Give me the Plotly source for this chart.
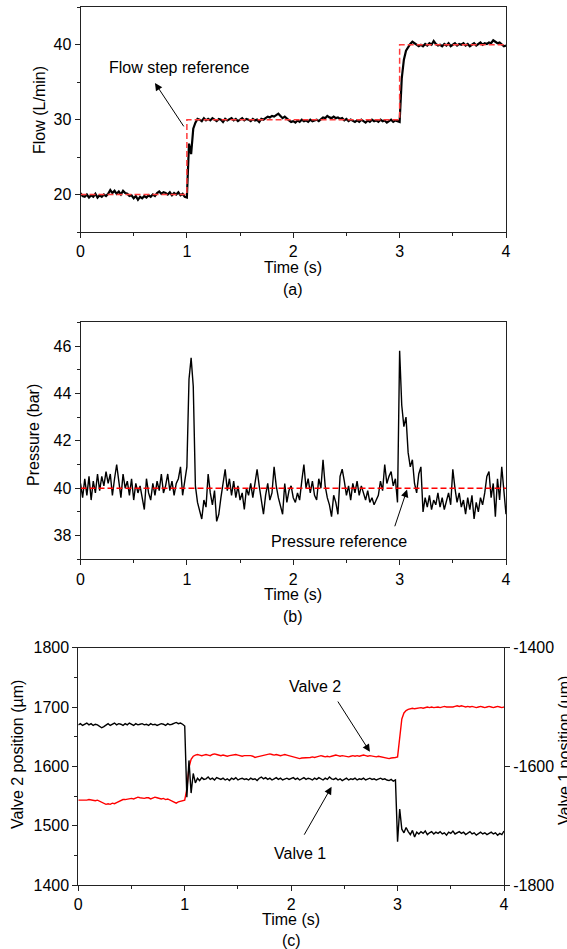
import plotly.graph_objects as go

FONT = "Liberation Sans, Arial, sans-serif"
W, H = 567, 949

# sampling grid (s)
t = [round(0.02 * i, 2) for i in range(201)]

# (a) measured flow (L/min)
flow = [
    20.2, 19.8, 19.7, 20.0, 19.6, 19.9, 19.7, 20.1, 19.6, 19.9,
    19.7, 20.0, 19.8, 20.1, 20.6, 20.2, 20.5, 20.1, 20.4, 20.0,
    20.5, 20.2, 20.1, 19.8, 19.9, 19.5, 19.8, 19.3, 19.7, 19.5,
    19.8, 19.6, 19.9, 19.7, 20.0, 19.8, 20.2, 20.4, 20.1, 20.3,
    20.2, 20.0, 20.3, 19.9, 20.2, 20.0, 20.3, 19.9, 20.1, 19.7,
    19.6, 26.8, 25.4, 28.8, 29.6, 30.1, 30.0, 29.8, 30.2, 29.9,
    30.1, 29.9, 30.2, 30.0, 29.8, 30.1, 30.0, 29.7, 30.1, 29.9,
    30.0, 30.2, 29.9, 30.1, 29.8, 30.0, 30.2, 29.9, 30.1, 30.0,
    29.8, 30.1, 29.9, 30.0, 29.7, 30.1, 30.0, 30.2, 30.4, 30.3,
    30.5, 30.4, 30.6, 30.8, 30.5, 30.2, 30.4, 30.1, 29.9, 29.7,
    29.8, 29.6, 29.9, 29.7, 30.0, 29.8, 29.9, 29.7, 30.0, 29.8,
    29.9, 30.0, 29.8, 30.1, 30.3, 30.2, 30.5, 30.3, 30.2, 30.4,
    30.2, 30.3, 30.1, 30.2, 29.9, 30.1, 29.8, 30.0, 29.9, 29.7,
    29.9, 29.7, 30.0, 29.8, 29.6, 29.9, 29.7, 30.0, 29.8, 29.9,
    29.7, 30.0, 29.8, 29.9, 29.6, 29.8, 30.0, 29.7, 29.9, 29.8,
    29.7, 35.5, 38.0, 39.2, 39.7, 40.1, 40.4, 40.2, 40.0, 39.8,
    40.0, 39.8, 40.1, 39.9, 40.2, 40.0, 40.5, 40.1, 39.9, 40.0,
    39.8, 40.1, 39.9, 40.2, 39.8, 40.0, 40.2, 39.9, 40.1, 40.0,
    40.2, 39.9, 40.1, 39.8, 40.0, 40.2, 39.9, 40.1, 40.3, 40.0,
    40.2, 40.1, 40.3, 40.2, 40.6, 40.4, 40.2, 40.3, 40.0, 39.8,
    39.9,
]
# (a) flow step reference
ref_t = [0, 1, 1, 3, 3, 4]
ref_flow = [20, 20, 30, 30, 40, 40]

# (b) measured pressure (bar)
pressure = [
    40.2, 39.6, 40.4, 39.7, 40.5, 39.5, 40.3, 39.8, 40.6, 39.9,
    40.5, 40.1, 40.7, 40.2, 40.6, 39.7, 40.4, 41.0, 40.3, 39.6,
    40.6, 40.0, 40.3, 39.7, 40.4, 39.5, 40.2, 39.8, 40.1, 39.6,
    39.1, 40.4, 39.8, 39.5, 40.2, 39.7, 40.3, 39.9, 40.6, 39.8,
    40.1, 40.6, 39.9, 40.3, 39.7, 40.2, 40.4, 40.9, 39.7, 40.3,
    40.9, 44.6, 45.5, 44.3, 40.1, 39.4, 39.0, 38.7, 39.5, 39.2,
    40.6, 39.8, 39.3, 39.9, 38.6, 38.9, 39.6, 40.2, 40.8, 39.9,
    40.4, 39.7, 40.3, 39.6, 40.1, 39.5, 39.8, 39.1, 40.0, 39.7,
    40.2, 39.6, 40.3, 40.8, 40.1, 39.5, 38.9, 39.7, 40.2, 39.5,
    39.8, 40.9, 40.1, 39.6, 39.3, 38.9, 40.2, 39.4, 39.9, 40.1,
    39.6, 39.4, 39.8, 39.5, 40.3, 41.0, 40.0, 40.4, 39.8, 40.3,
    39.7, 39.5, 40.4, 40.0, 41.2, 40.1, 39.6, 39.3, 38.8, 39.7,
    39.4, 38.9, 40.5, 40.8, 40.3, 39.7, 40.1, 39.5, 40.2, 39.8,
    40.3, 39.7, 40.1, 39.8, 39.5, 39.9, 39.4, 39.6, 39.3, 39.5,
    39.7, 40.3, 39.9, 41.0, 40.2, 40.5, 40.7, 40.1, 40.4, 39.4,
    45.8, 43.5, 42.6, 43.0, 41.5, 40.9, 41.2, 40.2, 39.8, 40.6,
    40.9, 39.0, 39.6, 39.2, 39.7, 39.1, 39.5, 39.3, 39.8, 39.2,
    39.6, 39.1, 39.5, 39.8, 39.3, 40.8, 40.0, 39.4, 39.8, 39.2,
    39.5, 38.9, 39.6, 39.1, 39.7, 38.7, 39.4, 39.0, 39.6, 39.3,
    39.8, 40.5, 40.7, 39.6, 40.2, 38.8, 40.4, 39.5, 40.9, 40.0,
    38.9,
]
# (b) pressure reference
pref_t = [0, 4]
pref = [40, 40]

# (c) valve 2 position (um), left axis
valve2 = [
    1543, 1543, 1542, 1543, 1543, 1544, 1543, 1543, 1542, 1543,
    1541, 1539, 1537, 1536, 1537, 1536, 1538, 1537, 1539, 1541,
    1543, 1544, 1544, 1545, 1545, 1546, 1545, 1546, 1548, 1547,
    1546, 1546, 1547, 1547, 1545, 1546, 1548, 1547, 1546, 1545,
    1546, 1544, 1545, 1543, 1541, 1539, 1538, 1540, 1541, 1542,
    1543, 1562, 1598, 1612, 1617, 1619, 1620, 1619, 1618, 1619,
    1620, 1619, 1618, 1620, 1621, 1620, 1619, 1618, 1619, 1618,
    1617, 1618, 1619, 1620, 1620, 1619, 1618, 1617, 1618, 1618,
    1619, 1618, 1617, 1615, 1616, 1617, 1618, 1619, 1620, 1620,
    1621, 1620, 1619, 1620, 1619, 1618, 1619, 1620, 1619, 1618,
    1617, 1616, 1615, 1613, 1613, 1614, 1614, 1615, 1614, 1615,
    1616, 1615, 1616, 1617, 1618, 1617, 1616, 1617, 1616, 1617,
    1618, 1619, 1618, 1617, 1618, 1617, 1617, 1616, 1617, 1618,
    1617, 1618, 1617, 1618, 1619, 1618, 1617, 1618, 1617, 1616,
    1616, 1617, 1616, 1615, 1614, 1613, 1613, 1614, 1614, 1615,
    1616, 1652, 1680, 1690, 1694, 1696, 1697, 1698, 1697, 1698,
    1698, 1699, 1698, 1699, 1700, 1699, 1700, 1699, 1700, 1700,
    1699, 1700, 1701, 1700, 1700, 1699, 1700, 1701, 1702, 1701,
    1702, 1701, 1700, 1701, 1700, 1701, 1700, 1699, 1700, 1701,
    1700, 1699, 1700, 1701, 1700, 1699, 1700, 1701, 1700, 1699,
    1700,
]
# (c) valve 1 position (um), right axis
valve1 = [
    -1530, -1528, -1531, -1529, -1527, -1530, -1528, -1531, -1529, -1530,
    -1532, -1535, -1533, -1530, -1528, -1531, -1529, -1527, -1530, -1528,
    -1529, -1531, -1528, -1530, -1527, -1529, -1531, -1528, -1530, -1529,
    -1528, -1530, -1529, -1531, -1528, -1530, -1529, -1531, -1530, -1528,
    -1529, -1531, -1528, -1530, -1529, -1527, -1526, -1528, -1527, -1529,
    -1532, -1652, -1590, -1645, -1612, -1628, -1620, -1624, -1619, -1622,
    -1621, -1618, -1622, -1620, -1623, -1619, -1621, -1622, -1620, -1623,
    -1621, -1624, -1620, -1622, -1619, -1623, -1621, -1620, -1622, -1621,
    -1623, -1620, -1622, -1621, -1624, -1620, -1618, -1621, -1619, -1622,
    -1620, -1623, -1621, -1619, -1622, -1620, -1623, -1621, -1620, -1622,
    -1621, -1619, -1622, -1620, -1623, -1621, -1619, -1622, -1620, -1621,
    -1623, -1620, -1622, -1619, -1621, -1623, -1620, -1622, -1618, -1621,
    -1622, -1620, -1623, -1621, -1624, -1622, -1620, -1623, -1621, -1622,
    -1620, -1623, -1621, -1622, -1620, -1623, -1621, -1620, -1622, -1621,
    -1623, -1621, -1620, -1622, -1621, -1623, -1624, -1622, -1625, -1623,
    -1727, -1672, -1706, -1712, -1703, -1710, -1715, -1708, -1719, -1711,
    -1714, -1710, -1713, -1709, -1715, -1712, -1710, -1714, -1711, -1713,
    -1710, -1714, -1712, -1716, -1711, -1713, -1709, -1714, -1712, -1710,
    -1713, -1711, -1715, -1712, -1710, -1714, -1712, -1716, -1713, -1711,
    -1714, -1712, -1715, -1713, -1711, -1714, -1712, -1716, -1713, -1715,
    -1709,
]
# right-axis tick labels (hyphen minus as in the original)
v1_tickvals = [-1800, -1600, -1400]
v1_ticktext = ["-1800", "-1600", "-1400"]

fig = go.Figure()
fig.add_trace(go.Scatter(x=t, y=flow, mode="lines", line=dict(color="black", width=2.2),
                         xaxis="x", yaxis="y"))
fig.add_trace(go.Scatter(x=ref_t, y=ref_flow, mode="lines",
                         line=dict(color="#ff3b3b", width=1.5, dash="6px,3px"),
                         xaxis="x", yaxis="y"))
fig.add_trace(go.Scatter(x=t, y=pressure, mode="lines", line=dict(color="black", width=1.4),
                         xaxis="x2", yaxis="y2"))
fig.add_trace(go.Scatter(x=pref_t, y=pref, mode="lines",
                         line=dict(color="red", width=1.4, dash="6px,3px"),
                         xaxis="x2", yaxis="y2"))
fig.add_trace(go.Scatter(x=t, y=valve1, mode="lines", line=dict(color="black", width=1.4),
                         xaxis="x3", yaxis="y4"))
fig.add_trace(go.Scatter(x=t, y=valve2, mode="lines", line=dict(color="red", width=1.4),
                         xaxis="x3", yaxis="y3"))

def py(px):
    return 1 - px / H

def pxx(px):
    return px / W

LC = "#222222"
base = dict(showline=True, linecolor=LC, linewidth=1, ticks="outside", ticklen=5,
            tickwidth=1, tickcolor=LC, showgrid=False, zeroline=False, automargin=False,
            tickfont=dict(family=FONT, size=16, color="black"))

xa_ab = [pxx(80.5), pxx(506)]
xa_c = [pxx(78.3), pxx(504)]

fig.update_layout(
    template="none",
    width=W, height=H, margin=dict(l=0, r=0, t=0, b=0, pad=0, autoexpand=False),
    paper_bgcolor="white", plot_bgcolor="white", showlegend=False,
    font=dict(family=FONT, size=16, color="black"),
    xaxis=dict(base, domain=xa_ab, range=[0, 4], dtick=1, anchor="y", mirror=True,
               minor=dict(ticks="outside", ticklen=3, dtick=0.5, tickcolor=LC)),
    yaxis=dict(base, domain=[py(232), py(7.3)], range=[15, 45], dtick=10, anchor="x", mirror=True,
               minor=dict(ticks="outside", ticklen=3, dtick=5, tickcolor=LC)),
    xaxis2=dict(base, domain=xa_ab, range=[0, 4], dtick=1, anchor="y2", mirror=True,
                minor=dict(ticks="outside", ticklen=3, dtick=0.5, tickcolor=LC)),
    yaxis2=dict(base, domain=[py(559.3), py(322.3)], range=[37, 47], dtick=2, anchor="x2", mirror=True,
                minor=dict(ticks="outside", ticklen=3, dtick=1, tickcolor=LC)),
    xaxis3=dict(base, domain=xa_c, range=[0, 4], dtick=1, anchor="y3", mirror=True,
                minor=dict(ticks="outside", ticklen=3, dtick=0.5, tickcolor=LC)),
    yaxis3=dict(base, domain=[py(885), py(647.7)], range=[1400, 1800], dtick=100, anchor="x3",
                minor=dict(ticks="outside", ticklen=3, dtick=50, tickcolor=LC)),
    yaxis4=dict(base, range=[-1800, -1400], tickvals=v1_tickvals, ticktext=v1_ticktext,
                anchor="x3", overlaying="y3", side="right"),
)

txt = dict(family=FONT, size=16, color="black")
ann = []
# axis titles and panel labels (paper coords)
for xc, yt, yl, lab in [(293, 267, 289, "(a)"), (293, 594.5, 616, "(b)"), (291, 919.5, 940, "(c)")]:
    ann.append(dict(text="Time (s)", x=pxx(xc), y=py(yt), xref="paper", yref="paper",
                    showarrow=False, font=txt, xanchor="center", yanchor="middle"))
    ann.append(dict(text=lab, x=pxx(xc), y=py(yl), xref="paper", yref="paper",
                    showarrow=False, font=txt, xanchor="center", yanchor="middle"))
for xc, yc, lab in [(39, 110, "Flow (L/min)"), (34, 435, "Pressure (bar)"),
                    (17, 755, "Valve 2 position (µm)"), (564, 751, "Valve 1 position (µm)")]:
    ann.append(dict(text=lab, x=pxx(xc), y=py(yc), xref="paper", yref="paper", textangle=-90,
                    showarrow=False, font=txt, xanchor="center", yanchor="middle"))

# in-plot labels
ann.append(dict(text="Flow step reference", x=0.935, y=36.9, xref="x", yref="y",
                showarrow=False, font=txt))
ann.append(dict(text="Pressure reference", x=2.43, y=37.76, xref="x2", yref="y2",
                showarrow=False, font=txt))
ann.append(dict(text="Valve 2", x=2.225, y=1734, xref="x3", yref="y3",
                showarrow=False, font=txt))
ann.append(dict(text="Valve 1", x=2.084, y=1453, xref="x3", yref="y3",
                showarrow=False, font=txt))

# arrows
arrow = dict(text="", showarrow=True, arrowhead=2, arrowsize=1.5, arrowwidth=1, arrowcolor="black")
ann.append(dict(arrow, x=0.70, y=34.9, ax=0.98, ay=28.9, xref="x", yref="y", axref="x", ayref="y"))
ann.append(dict(arrow, x=3.07, y=39.94, ax=2.95, ay=38.33, xref="x2", yref="y2", axref="x2", ayref="y2"))
ann.append(dict(arrow, x=2.74, y=1624.6, ax=2.43, ay=1711.8, xref="x3", yref="y3", axref="x3", ayref="y3"))
ann.append(dict(arrow, x=2.38, y=1565.6, ax=2.115, ay=1482.3, xref="x3", yref="y3", axref="x3", ayref="y3"))

fig.update_layout(annotations=ann)
fig.write_html("out.html", config={"displayModeBar": False},
               post_script="document.body.style.margin='0';document.body.style.overflow='hidden';")
